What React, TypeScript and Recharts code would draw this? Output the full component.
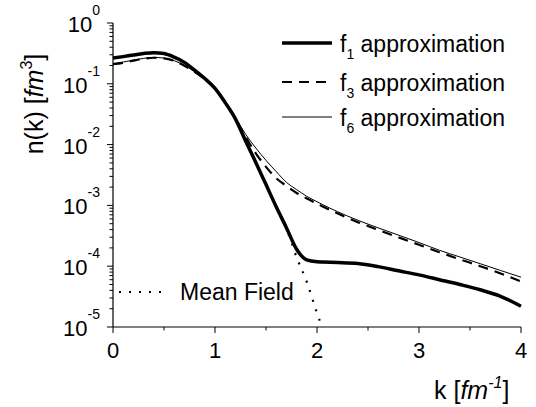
import { LineChart, Line, XAxis, YAxis } from "recharts";

const kValues = [0, 0.1, 0.2, 0.3, 0.4, 0.5, 0.6, 0.7, 0.8, 0.9, 1.0, 1.1, 1.2, 1.3, 1.4, 1.5, 1.6, 1.7, 1.8, 1.9, 2.0, 2.05, 2.2, 2.4, 2.6, 2.8, 3.0, 3.2, 3.4, 3.6, 3.8, 4.0];

const f1Values = [0.265, 0.28, 0.298, 0.315, 0.325, 0.315, 0.275, 0.225, 0.168, 0.122, 0.084, 0.049, 0.0265, 0.0115, 0.0051, 0.0022, 0.00095, 0.00043, 0.00019, 0.000127, 0.000118, 0.000117, 0.000115, 0.000111, 0.0000985, 0.000084, 0.000072, 0.00006, 0.00005, 0.000041, 0.000032, 0.000022];

const f3Values = [0.21, 0.222, 0.24, 0.257, 0.268, 0.262, 0.238, 0.198, 0.157, 0.12, 0.085, 0.05, 0.027, 0.0135, 0.0072, 0.0043, 0.0028, 0.0021, 0.0016, 0.0013, 0.00107, 0.00097, 0.00074, 0.00053, 0.000395, 0.000298, 0.000225, 0.00017, 0.00013, 0.0001, 0.000076, 0.000056];

const f6Values = [0.215, 0.228, 0.245, 0.262, 0.272, 0.265, 0.24, 0.2, 0.158, 0.12, 0.085, 0.05, 0.0275, 0.0148, 0.0088, 0.0055, 0.0036, 0.0024, 0.00182, 0.00141, 0.00115, 0.00104, 0.00079, 0.00057, 0.000427, 0.000324, 0.000245, 0.000183, 0.000142, 0.00011, 0.000085, 0.000066];

const meanFieldValues = [null, null, null, null, null, null, null, null, null, null, null, null, null, null, null, null, 0.00095, 0.00042, 0.00014, 0.000055, 0.000017, 0.00001, null, null, null, null, null, null, null, null, null, null];

const yDecades = [1e-5, 1e-4, 1e-3, 1e-2, 1e-1, 1];
const xTicks = [0, 0.5, 1, 1.5, 2, 2.5, 3, 3.5, 4];

const legendSeries = [
  { sub: "1", label: " approximation", width: 3.5, dash: undefined },
  { sub: "3", label: " approximation", width: 2.2, dash: "10 7" },
  { sub: "6", label: " approximation", width: 1, dash: undefined },
];

const FONT = "'Liberation Sans', Arial, sans-serif";

const data = kValues.map((k, i) => ({
  k,
  f1: f1Values[i],
  f3: f3Values[i],
  f6: f6Values[i],
  mf: meanFieldValues[i],
}));

// decades plus log minor ticks 2..9
const yTicks: number[] = [];
yDecades.forEach((d, i) => {
  yTicks.push(d);
  if (i < yDecades.length - 1) {
    for (let m = 2; m <= 9; m++) yTicks.push(d * m);
  }
});

const YTick = (props: any) => {
  const { x, y, payload } = props;
  const lg = Math.log10(payload.value);
  const exp = Math.round(lg);
  const major = Math.abs(lg - exp) < 1e-6;
  return (
    <g>
      <line x1={x - (major ? 6 : 3.5)} x2={x} y1={y} y2={y} stroke="#000" strokeWidth={1} />
      {major && (
        <text x={x - 13} y={y + 9} textAnchor="end" fontFamily={FONT} fontSize={22} fill="#000">
          10
          <tspan dy={-17} fontSize={14}>{exp}</tspan>
        </text>
      )}
    </g>
  );
};

const XTick = (props: any) => {
  const { x, y, payload } = props;
  const major = Number.isInteger(payload.value);
  return (
    <g>
      <line x1={x} x2={x} y1={y} y2={y + (major ? 6 : 3.5)} stroke="#000" strokeWidth={1} />
      {major && (
        <text x={x} y={y + 31} textAnchor="middle" fontFamily={FONT} fontSize={22} fill="#000">
          {payload.value}
        </text>
      )}
    </g>
  );
};

export default function App() {
  return (
    <div style={{ position: "absolute", left: 0, top: 0, width: 536, height: 407, background: "#fff" }}>
      <LineChart width={536} height={407} data={data} margin={{ top: 23, right: 15, bottom: 0, left: 0 }}>
        <XAxis
          dataKey="k"
          type="number"
          domain={[0, 4]}
          ticks={xTicks}
          interval={0}
          height={80}
          tickSize={0}
          tickMargin={0}
          tickLine={false}
          tick={<XTick />}
          axisLine={{ stroke: "#000", strokeWidth: 1.2 }}
        />
        <YAxis
          type="number"
          scale="log"
          domain={[1e-5, 1]}
          allowDataOverflow
          ticks={yTicks}
          interval={0}
          width={113}
          tickSize={0}
          tickMargin={0}
          tickLine={false}
          tick={<YTick />}
          axisLine={{ stroke: "#000", strokeWidth: 1.2 }}
        />
        <Line type="monotone" dataKey="mf" stroke="#000" strokeWidth={2.2} strokeDasharray="2 8" dot={false} isAnimationActive={false} />
        <Line type="monotone" dataKey="f6" stroke="#000" strokeWidth={1} dot={false} isAnimationActive={false} />
        <Line type="monotone" dataKey="f3" stroke="#000" strokeWidth={2.2} strokeDasharray="10 7" dot={false} isAnimationActive={false} />
        <Line type="monotone" dataKey="f1" stroke="#000" strokeWidth={3.5} dot={false} isAnimationActive={false} />
      </LineChart>
      <svg width={536} height={407} style={{ position: "absolute", left: 0, top: 0, pointerEvents: "none" }}>
        {legendSeries.map((s, i) => {
          const ly = [43, 82, 117][i];
          return (
            <g key={s.sub}>
              <line x1={282} x2={332} y1={ly} y2={ly} stroke="#000" strokeWidth={s.width} strokeDasharray={s.dash} />
              <text x={340} y={ly + 8.5} fontFamily={FONT} fontSize={23} fill="#000">
                f<tspan dy={7} fontSize={14}>{s.sub}</tspan>
                <tspan dy={-7}>{s.label}</tspan>
              </text>
            </g>
          );
        })}
        <line x1={119} x2={168} y1={292} y2={292} stroke="#000" strokeWidth={2.2} strokeDasharray="2 8" />
        <text x={180} y={300} fontFamily={FONT} fontSize={23} fill="#000">Mean Field</text>
        <text transform="translate(43,104) rotate(-90)" textAnchor="middle" fontFamily={FONT} fontSize={25} fill="#000">
          n(k) [<tspan fontStyle="italic">fm</tspan>
          <tspan dy={-11} fontSize={16}>3</tspan>
          <tspan dy={11}>]</tspan>
        </text>
        <text x={434} y={399} fontFamily={FONT} fontSize={25} fill="#000">
          k [<tspan fontStyle="italic">fm</tspan>
          <tspan dy={-11} fontSize={16} fontStyle="italic">-1</tspan>
          <tspan dy={11}>]</tspan>
        </text>
      </svg>
    </div>
  );
}
